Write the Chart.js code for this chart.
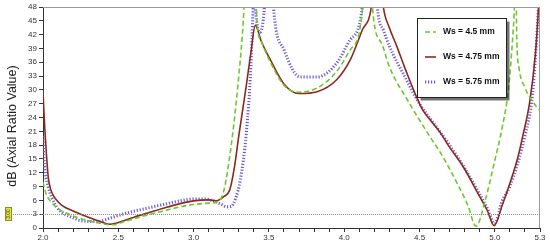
<!DOCTYPE html>
<html>
<head>
<meta charset="utf-8">
<script src="https://cdn.jsdelivr.net/npm/chart.js@4"></script>
<style>
  html, body { margin: 0; padding: 0; background: #fff; }
  #wrap { width: 550px; height: 245px; position: relative; }
</style>
</head>
<body>
<div id="wrap"><canvas id="arChart"></canvas></div>
<script>
// Ws = 4.5 mm (green dashed)
const greenX = [2.0, 2.02, 2.05, 2.1, 2.15, 2.2, 2.3, 2.4, 2.46, 2.55, 2.69, 2.8, 2.91, 3.0, 3.1, 3.15, 3.2, 3.26, 3.3, 3.33, 3.345, 3.41, 3.42, 3.45, 3.51, 3.6, 3.7, 3.82, 3.95, 4.04, 4.12, 4.13, 4.18, 4.19, 4.25, 4.3, 4.42, 4.57, 4.64, 4.75, 4.82, 4.875, 4.94, 4.99, 5.05, 5.09, 5.12, 5.13, 5.135, 5.14, 5.145, 5.16, 5.2, 5.25, 5.3];
const greenY = [10, 7.5, 5.8, 4.2, 3.3, 2.6, 1.6, 0.9, 0.7, 1.5, 2.8, 3.7, 4.6, 5.1, 5.4, 5.6, 8, 20.6, 33, 45, 55, 55, 45, 40.5, 36, 31, 29.5, 30.4, 34, 38.7, 47, 55, 55, 47, 40, 35, 27.8, 19.8, 16.3, 9.7, 5, 0.4, 6.5, 13.3, 22, 30, 42, 48, 55, 55, 42, 35, 30.5, 27.5, 25.5];

// Ws = 4.75 mm (red solid)
const redX = [2.0, 2.005, 2.013, 2.025, 2.035, 2.05, 2.07, 2.1, 2.13, 2.2, 2.31, 2.38, 2.44, 2.5, 2.6, 2.69, 2.8, 2.91, 3.0, 3.1, 3.15, 3.2, 3.24, 3.27, 3.3, 3.35, 3.38, 3.41, 3.45, 3.51, 3.6, 3.7, 3.82, 3.95, 4.04, 4.12, 4.18, 4.2, 4.24, 4.26, 4.3, 4.35, 4.4, 4.52, 4.57, 4.64, 4.7, 4.79, 4.9, 4.95, 4.995, 5.05, 5.1, 5.15, 5.19, 5.23, 5.27, 5.29, 5.3];
const redY = [30, 26, 21, 15, 11, 8.5, 7, 5.7, 4.8, 3.7, 2.2, 1.4, 0.8, 1.2, 2.3, 3.2, 4.3, 5.3, 5.9, 6.1, 5.9, 6.8, 8.3, 13, 20, 31, 38, 44, 40.5, 36.5, 31.3, 29.2, 29.6, 32.2, 36.5, 43, 48, 55, 55, 48, 43.5, 39.4, 35, 25.7, 23.5, 20.6, 17.5, 13.3, 6.8, 3.8, 0.5, 5, 9.7, 15, 20.6, 27, 38, 48, 55];

// Ws = 5.75 mm (blue dotted)
const blueX = [2.0, 2.005, 2.015, 2.035, 2.06, 2.09, 2.13, 2.2, 2.25, 2.36, 2.46, 2.55, 2.69, 2.8, 2.91, 3.0, 3.08, 3.13, 3.18, 3.22, 3.25, 3.28, 3.31, 3.35, 3.38, 3.395, 3.40, 3.41, 3.44, 3.47, 3.48, 3.52, 3.53, 3.6, 3.71, 3.82, 3.95, 4.04, 4.12, 4.13, 4.21, 4.22, 4.26, 4.3, 4.4, 4.5, 4.6, 4.7, 4.8, 4.9, 4.95, 4.998, 5.05, 5.1, 5.2, 5.25, 5.29, 5.3];
const blueY = [20, 16, 12, 8.9, 6.5, 4.6, 3.3, 2.2, 1.6, 1.4, 2.3, 3.2, 4.3, 5.1, 5.9, 6.3, 6.3, 5.9, 5.2, 4.6, 4.7, 6.5, 10.4, 20.6, 35, 48, 55, 48, 42.5, 48, 55, 55, 48, 38.7, 32.8, 32.8, 35.8, 40.9, 48, 55, 55, 48, 43, 39.5, 33, 27, 22.5, 18, 13, 7.3, 4.3, 1, 6, 9, 20, 29, 48, 55];

const seriesLabels = ['Ws = 4.5 mm', 'Ws = 4.75 mm', 'Ws = 5.75 mm'];
const xTickLabels = [2.0, 2.5, 3.0, 3.5, 4.0, 4.5, 5.0, 5.3];
const refLevel = 3;

const greenColor = '#6cc82c';
const redColor = '#8a2a1c';
const blueColor = '#6a5ad8';

function toPoints(xs, ys) {
  return xs.map((x, i) => ({ x: x, y: ys[i] }));
}

// draws frame, 3 dB reference line, y title and the legend box
const extrasPlugin = {
  id: 'extras',
  afterDatasetsDraw(chart) {
    const ctx = chart.ctx;
    const a = chart.chartArea;
    const yScale = chart.scales.y;
    ctx.save();

    // top + right frame
    ctx.strokeStyle = '#9a9a9a';
    ctx.lineWidth = 1;
    ctx.beginPath();
    ctx.moveTo(a.left, a.top + 0.5);
    ctx.lineTo(a.right - 0.5, a.top + 0.5);
    ctx.lineTo(a.right - 0.5, a.bottom);
    ctx.stroke();

    // dotted reference line at 3 dB
    const yRef = Math.round(yScale.getPixelForValue(refLevel)) + 0.5;
    ctx.setLineDash([1, 1]);
    ctx.strokeStyle = '#8a8a8a';
    ctx.beginPath();
    ctx.moveTo(11, yRef);
    ctx.lineTo(a.right, yRef);
    ctx.stroke();
    ctx.setLineDash([]);

    // yellow marker with "3.00"
    ctx.fillStyle = '#e6e63a';
    ctx.strokeStyle = '#8a8a30';
    ctx.fillRect(5.5, yRef - 7, 6, 13);
    ctx.strokeRect(5.5, yRef - 7, 6, 13);
    ctx.save();
    ctx.translate(8.5, yRef - 0.5);
    ctx.rotate(-Math.PI / 2);
    ctx.fillStyle = '#333';
    ctx.font = '5px "Liberation Sans", Arial, sans-serif';
    ctx.textAlign = 'center';
    ctx.textBaseline = 'middle';
    ctx.fillText((refLevel).toFixed(2), 0, 0);
    ctx.restore();

    // y axis title
    ctx.save();
    ctx.translate(13, 126);
    ctx.rotate(-Math.PI / 2);
    ctx.fillStyle = '#222';
    ctx.font = '12.5px "Liberation Sans", Arial, sans-serif';
    ctx.textAlign = 'center';
    ctx.textBaseline = 'middle';
    ctx.fillText('dB (Axial Ratio Value)', 0, 0);
    ctx.restore();

    // legend box
    const bx = 417.5, by = 18.5, bw = 89, bh = 79;
    ctx.fillStyle = 'rgba(0,0,0,0.55)';
    ctx.fillRect(bx + 3, by + 3, bw, bh);
    ctx.fillStyle = '#fff';
    ctx.fillRect(bx, by, bw, bh);
    ctx.strokeStyle = '#222';
    ctx.lineWidth = 1;
    ctx.strokeRect(bx, by, bw, bh);

    const rows = [32, 57, 82];
    chart.data.datasets.forEach((ds, i) => {
      const yy = rows[i];
      ctx.strokeStyle = ds.borderColor;
      ctx.lineWidth = ds.borderWidth;
      ctx.setLineDash(ds.borderDash || []);
      ctx.beginPath();
      ctx.moveTo(425, yy);
      ctx.lineTo(436, yy);
      ctx.stroke();
      ctx.setLineDash([]);
      ctx.fillStyle = '#111';
      ctx.font = 'bold 8.5px "Liberation Sans", Arial, sans-serif';
      ctx.textAlign = 'left';
      ctx.textBaseline = 'middle';
      ctx.fillText(ds.label, 443, yy);
    });
    ctx.restore();
  }
};

new Chart(document.getElementById('arChart'), {
  type: 'line',
  data: {
    datasets: [
      {
        label: seriesLabels[0],
        data: toPoints(greenX, greenY),
        borderColor: greenColor,
        borderWidth: 1.6,
        borderDash: [5, 3]
      },
      {
        label: seriesLabels[1],
        data: toPoints(redX, redY),
        borderColor: redColor,
        borderWidth: 1.6
      },
      {
        label: seriesLabels[2],
        data: toPoints(blueX, blueY),
        borderColor: blueColor,
        borderWidth: 3,
        borderDash: [1.2, 1.8]
      }
    ]
  },
  options: {
    responsive: true,
    maintainAspectRatio: false,
    devicePixelRatio: 1,
    animation: false,
    parsing: true,
    elements: {
      point: { radius: 0 },
      line: { cubicInterpolationMode: 'monotone', fill: false }
    },
    layout: { padding: { left: 0, top: 7, right: 10, bottom: 0 } },
    plugins: {
      legend: { display: false },
      tooltip: { enabled: false }
    },
    scales: {
      x: {
        type: 'linear',
        min: 2.0,
        max: 5.3,
        afterBuildTicks: (scale) => {
          const t = [];
          for (let i = 20; i <= 53; i++) t.push({ value: i / 10 });
          scale.ticks = t;
        },
        afterFit: (scale) => { scale.height = 17; },
        ticks: {
          autoSkip: false,
          maxRotation: 0,
          padding: 1,
          color: '#333',
          font: { size: 8, family: '"Liberation Sans", Arial, sans-serif' },
          callback: (v) => {
            const hit = xTickLabels.some(l => Math.abs(l - v) < 1e-6);
            return hit ? Number(v).toFixed(1) : '';
          }
        },
        grid: { drawOnChartArea: false, drawTicks: true, tickLength: 4, color: '#333' },
        border: { display: true, color: '#333' }
      },
      y: {
        min: 0,
        max: 48,
        afterFit: (scale) => { scale.width = 43; },
        ticks: {
          stepSize: 3,
          padding: 2,
          color: '#333',
          font: { size: 8, family: '"Liberation Sans", Arial, sans-serif' }
        },
        grid: { drawOnChartArea: false, drawTicks: true, tickLength: 4, color: '#333' },
        border: { display: true, color: '#333' }
      }
    }
  },
  plugins: [extrasPlugin]
});
</script>
</body>
</html>
